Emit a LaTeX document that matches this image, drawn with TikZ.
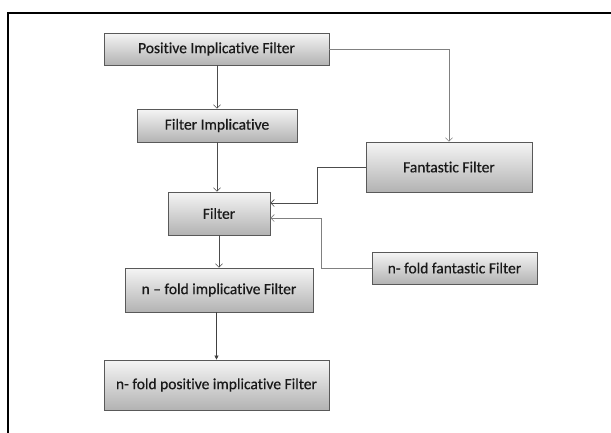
\documentclass[tikz,border=0pt]{standalone}
\usepackage{fontspec}
\setmainfont{Carlito}
\newfontfamily\boxfont{Carlito}[Ligatures=NoCommon,FakeBold=0.5]
\usetikzlibrary{arrows.meta,shadows,calc}
\begin{document}
\begin{tikzpicture}[x=1pt,y=-1pt,
  box/.style={draw=black!65, line width=0.8pt, top color=black!4, bottom color=black!30,
    drop shadow={shadow xshift=1pt,shadow yshift=-1pt,opacity=0.35,fill=black!60},
    inner sep=0pt, text=black!90,
    font=\boxfont\fontsize{15.5}{18}\selectfont},
  arr/.style={draw=black!70, line width=0.6pt, -{Straight Barb[length=3.5pt,width=7pt]}},
  arrl/.style={draw=black!50, line width=0.6pt, -{Straight Barb[length=3.5pt,width=7pt]}},
  arrf/.style={draw=black!75, line width=0.6pt, -{Triangle[length=4pt,width=4pt]}}]
\useasboundingbox (0,0) rectangle (611,432);
\fill[white] (0,0) rectangle (611,432);
\draw[line width=2pt, black] (8,440) -- (8,12.7) -- (620,12.7);

\node[box, minimum width=225pt, minimum height=32pt] (a1) at (216.5,49) {Positive Implicative Filter};
\node[box, minimum width=160pt, minimum height=33pt] (a2) at (217,125.5) {Filter Implicative};
\node[box, minimum width=166pt, minimum height=50pt] (a3) at (449,167) {Fantastic Filter};
\node[box, minimum width=102pt, minimum height=43pt] (a4) at (219,213.5) {Filter};
\node[box, minimum width=165pt, minimum height=32pt] (a5) at (454.5,268) {n- fold fantastic Filter};
\node[box, minimum width=188pt, minimum height=44pt] (a6) at (219,290) {n – fold implicative Filter};
\node[box, minimum width=225pt, minimum height=50pt] (a7) at (216.5,385) {n- fold positive implicative Filter};

\draw[arr] (a1.south -| a2.north) -- (a2.north);
\draw[arrl] (a1.east) -| (a3.north);
\draw[arr] (a2.south) -- (a2.south |- a4.north);
\draw[arr] (a3.west) -- ++(-48,0) |- ([yshift=10.5pt]a4.east);
\draw[arrl] (a5.west) -- ++(-50,0) |- ([yshift=-4.5pt]a4.east);
\draw[arr] (a4.south) -- (a6.north);
\draw[arrf] (a6.south -| a7.north) -- (a7.north);
\end{tikzpicture}
\end{document}
